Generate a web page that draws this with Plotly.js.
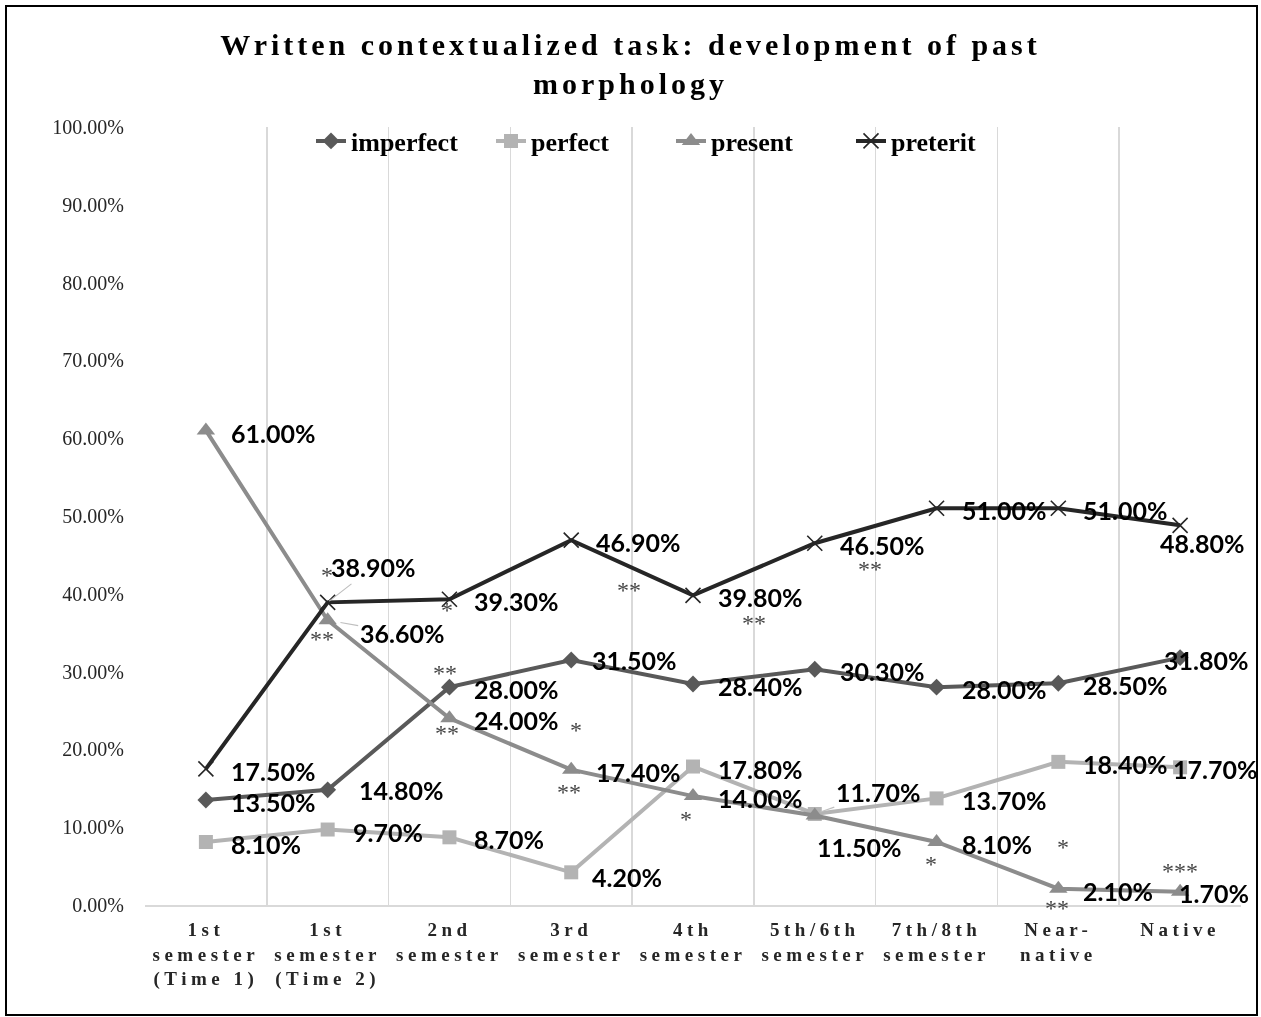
<!DOCTYPE html>
<html><head><meta charset="utf-8">
<script src="https://cdn.plot.ly/plotly-3.0.1.min.js"></script>
<style>
html,body{margin:0;padding:0;background:#fff;}
#wrap{position:relative;width:1261px;height:1017px;}
#chart{position:absolute;left:0;top:0;width:1261px;height:1017px;filter:grayscale(1);}
#frame{position:absolute;left:5px;top:5px;width:1249px;height:1007px;border:2px solid #000;pointer-events:none;}
.gtitle{letter-spacing:4px;}
.xtick text{letter-spacing:4.5px;}
</style></head><body>
<div id="wrap"><div id="chart"></div><div id="frame"></div></div>
<script>
// ---- data ----
const categories = ['1st semester (Time 1)', '1st semester (Time 2)', '2nd semester', '3rd semester', '4th semester', '5th/6th semester', '7th/8th semester', 'Near-native', 'Native'];
const tickLabels = ['1st<br>semester<br>(Time 1)', '1st<br>semester<br>(Time 2)', '2nd<br>semester', '3rd<br>semester', '4th<br>semester', '5th/6th<br>semester', '7th/8th<br>semester', 'Near-<br>native', 'Native'];
const seriesNames = ['imperfect', 'perfect', 'present', 'preterit'];
const imperfect = [13.5, 14.8, 28.0, 31.5, 28.4, 30.3, 28.0, 28.5, 31.8];
const perfect   = [8.1, 9.7, 8.7, 4.2, 17.8, 11.7, 13.7, 18.4, 17.7];
const present   = [61.0, 36.6, 24.0, 17.4, 14.0, 11.5, 8.1, 2.1, 1.7];
const preterit  = [17.5, 38.9, 39.3, 46.9, 39.8, 46.5, 51.0, 51.0, 48.8];
// significance marks: series, point index, text
const sigSeries = ['preterit', 'preterit', 'preterit', 'imperfect', 'present', 'present', 'preterit', 'preterit', 'present', 'present', 'preterit', 'present', 'present', 'present', 'present'];
const sigIndex  = [1, 1, 2, 2, 2, 3, 3, 4, 3, 4, 5, 6, 7, 7, 8];
const sigText   = ['*', '**', '*', '**', '**', '*', '**', '**', '**', '*', '**', '*', '*', '**', '***'];

// ---- styles ----
const seriesData = {imperfect, perfect, present, preterit};
const styles = {
  imperfect: {color: '#595959', symbol: 'diamond', size: 13},
  perfect:   {color: '#b3b3b3', symbol: 'square', size: 14},
  present:   {color: '#8c8c8c', symbol: 'triangle-up', size: 16},
  preterit:  {color: '#262626', symbol: 'x-thin', size: 15}
};
// label offsets in screen px [dx to left edge, dy down of center]
const defaultOffset = [23, 2];
const labelOverrides = {
  'imperfect:1': [29, 0], 'imperfect:3': [19, 0], 'imperfect:8': [-18, 2],
  'perfect:3': [19, 5], 'perfect:8': [-9, 2],
  'present:0': [23, 3], 'present:5': [0, 31], 'present:8': [-3, 1],
  'preterit:8': [-22, 18]
};
// leader-line labels: [ax, ay] text-centre offset, standoff
const leaders = {
  'preterit:1': [45, -35, 2],
  'present:1': [74, 13, 13],
  'perfect:5': [63, -22, 6]
};
const sigOffsets = [[-1, -27], [-6, 37], [-2, 11], [-4, -14], [-2, 15], [5, -40], [58, 50], [61, 28], [-2, 22], [-7, 23], [55, 26], [-6, 22], [5, -42], [-1, 19], [0, -21]];

const labelFont = {family: 'Lato, "Liberation Sans", sans-serif', size: 25, color: '#000', weight: 'bold'};

const traces = seriesNames.map(name => {
  const st = styles[name];
  const marker = {symbol: st.symbol, size: st.size, color: st.color};
  if (name === 'preterit') marker.line = {width: 1.6, color: st.color};
  return {
    type: 'scatter', mode: 'lines+markers', name: name,
    x: categories, y: seriesData[name],
    line: {color: st.color, width: 4},
    marker: marker,
    cliponaxis: false,
    hoverinfo: 'skip'
  };
});

const annotations = [];
seriesNames.forEach(name => {
  seriesData[name].forEach((v, i) => {
    const key = name + ':' + i;
    const txt = v.toFixed(2) + '%';
    if (leaders[key]) {
      const [ax, ay, so] = leaders[key];
      annotations.push({x: categories[i], y: v, xref: 'x', yref: 'y', text: txt,
        showarrow: true, arrowhead: 0, arrowwidth: 1.2, arrowcolor: '#bfbfbf',
        ax: ax, ay: ay, standoff: so, font: labelFont});
    } else {
      const [dx, dy] = labelOverrides[key] || defaultOffset;
      annotations.push({x: categories[i], y: v, xref: 'x', yref: 'y', text: txt,
        showarrow: false, xanchor: 'left', yanchor: 'middle',
        xshift: dx, yshift: -dy, font: labelFont});
    }
  });
});
sigText.forEach((t, k) => {
  const name = sigSeries[k], i = sigIndex[k];
  const [dx, dy] = sigOffsets[k];
  annotations.push({x: categories[i], y: seriesData[name][i], xref: 'x', yref: 'y', text: t,
    showarrow: false, xanchor: 'center', yanchor: 'middle', xshift: dx, yshift: -dy,
    font: {family: '"Liberation Serif", serif', size: 24, color: '#454545'}});
});

const layout = {
  width: 1261, height: 1017,
  margin: {l: 145, r: 20, t: 127, b: 112},
  paper_bgcolor: '#fff', plot_bgcolor: '#fff',
  title: {
    text: 'Written contextualized task: development of past<br>morphology',
    font: {family: '"Liberation Serif", serif', size: 30, color: '#000', weight: 'bold'},
    x: 0.5, xref: 'container', xanchor: 'center',
    y: 1 - 55 / 1017, yref: 'container', yanchor: 'top'
  },
  showlegend: true,
  legend: {
    orientation: 'h', x: (311 - 145) / 1096, xanchor: 'left', y: 0.982, yanchor: 'middle',
    entrywidth: 135, entrywidthmode: 'pixels',
    bgcolor: 'rgba(0,0,0,0)',
    font: {family: '"Liberation Serif", serif', size: 26, color: '#000', weight: 'bold'}
  },
  xaxis: {
    type: 'category', range: [-0.5, 8.5],
    tickvals: categories, ticktext: tickLabels,
    tickson: 'boundaries', ticks: '',
    ticklabelstandoff: 6,
    showgrid: true, gridcolor: '#d9d9d9', gridwidth: 1.5,
    showline: true, linecolor: '#d9d9d9', linewidth: 2,
    zeroline: false,
    tickfont: {family: '"Liberation Serif", serif', size: 19, color: '#262626', weight: 'bold'},
    fixedrange: true
  },
  yaxis: {
    range: [0, 100], dtick: 10, tickformat: '.2f', ticksuffix: '%',
    showgrid: false, zeroline: false, showline: false, ticks: '',
    ticklabelstandoff: 20,
    tickfont: {family: '"Liberation Serif", serif', size: 20, color: '#262626'},
    fixedrange: true
  },
  annotations: annotations
};

Plotly.newPlot('chart', traces, layout, {displayModeBar: false, staticPlot: true});
</script>
</body></html>
